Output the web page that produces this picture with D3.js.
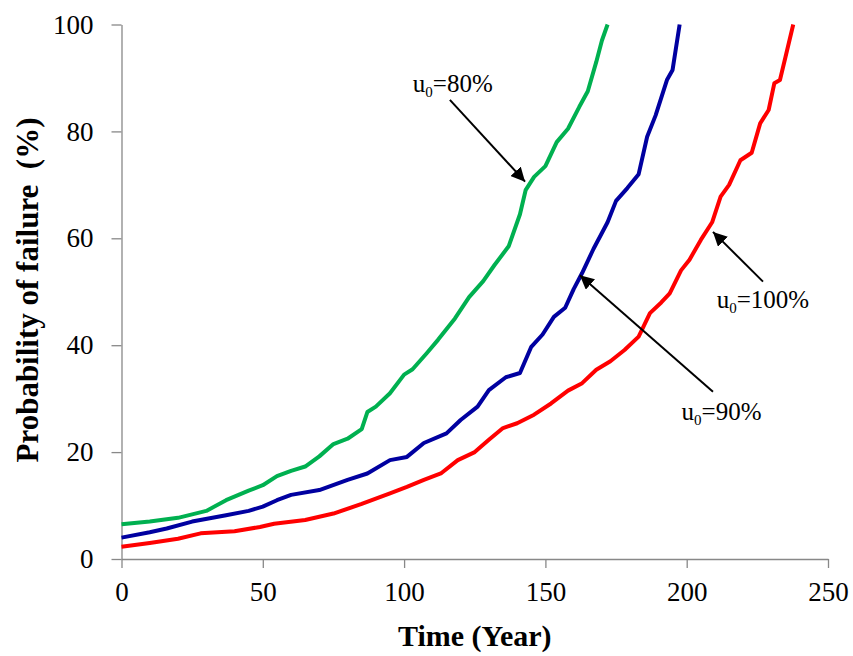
<!DOCTYPE html>
<html><head><meta charset="utf-8">
<script src="https://cdn.jsdelivr.net/npm/d3@7"></script>
<style>body{margin:0;background:#fff}</style>
</head><body>
<svg id="c" width="853" height="656"></svg>
<script>
const xTicks = [0,50,100,150,200,250];
const yTicks = [0,20,40,60,80,100];

const greenT = [0,10,20,30,37,45,50,55,60,65,70,75,80,85,87,90,95,100,103,108,112,118,123,128,132,137,141,143,146,150,154,158,162,165,168,170,172];
const greenV = [6.5,7.0,7.7,9.0,11,12.8,13.8,15.5,16.5,17.3,19.2,21.5,22.5,24.3,27.5,28.5,31,34.5,35.5,38.5,41,45,49,52,55,58.5,64.5,69,71.5,73.5,78,80.5,84.6,87.5,93,97,100];

const blueT = [0,10,16,25,37,45,50,55,60,70,80,87,95,101,107,115,120,126,130,136,141,145,149,153,157,160,163,167,172,175,179,183,186,189,193,195,197.5];
const blueV = [4.0,5.0,5.7,7.0,8.2,9.0,9.8,11.0,12.0,12.9,14.8,16.0,18.5,19.1,21.7,23.5,26,28.5,31.6,34,34.8,39.7,42,45.3,47,50.5,53.5,58,63,67,69.4,72,79,83,89.6,91.5,100];

const redT = [0,10,20,28,40,49,54,65,75,85,95,101,107,113,119,125,130,135,140,146,152,158,163,168,173,178,183,187,191,194,198,201,205,209,212,215,219,223,226,229,231,233,235,237.7];
const redV = [2.3,3.0,3.8,4.8,5.2,6.0,6.6,7.3,8.5,10.3,12.3,13.5,14.8,16.0,18.5,20,22.3,24.5,25.4,27,29.1,31.5,32.9,35.4,37,39.1,41.6,46,48,49.7,54,56,59.7,63,67.8,70,74.6,76,81.5,84,89,89.6,94,100];

const seriesNames = ["80%","90%","100%"];
const seriesColors = ["#00b050","#0000a0","#ff0000"];

// annotations in data units: label position, arrow start, arrow tip
const annLabels = ["80%","100%","90%"];
const annText = [[103.1,87.4],[210.6,47.0],[198.2,26.0]];
const annFrom = [[116.2,85.9],[227,51.9],[209.3,31.3]];
const annTo = [[142.8,70.6],[209.3,61.2],[162.2,53.1]];

const FF = "Liberation Serif";
const svg = d3.select("#c");
const x = d3.scaleLinear().domain([0,250]).range([121.5,828]);
const y = d3.scaleLinear().domain([0,100]).range([559,24.5]);

const axisColor = "#888";
const gx = svg.append("g").attr("transform",`translate(0,${y(0)})`)
  .call(d3.axisBottom(x).tickValues(xTicks).tickSize(9).tickSizeOuter(0).tickPadding(14));
const gy = svg.append("g").attr("transform",`translate(${x(0)},0)`)
  .call(d3.axisLeft(y).tickValues(yTicks).tickSize(10).tickSizeOuter(0).tickPadding(18));
[gx,gy].forEach(g=>{
  g.attr("font-family",FF).attr("font-size",27);
  g.selectAll("path,line").attr("stroke",axisColor).attr("stroke-width",1.3);
  g.selectAll("text").attr("font-family",FF).attr("font-size",27).attr("fill","#000");
});
gy.selectAll("text").attr("dy","0.32em");

const data = [
  greenT.map((t,i)=>[t,greenV[i]]),
  blueT.map((t,i)=>[t,blueV[i]]),
  redT.map((t,i)=>[t,redV[i]])
];
const line = d3.line().x(d=>x(d[0])).y(d=>y(d[1]));
svg.append("g").selectAll("path").data(data).join("path")
  .attr("d",line).attr("fill","none")
  .attr("stroke",(d,i)=>seriesColors[i]).attr("stroke-width",4)
  .attr("stroke-linejoin","round");

svg.append("defs").append("marker").attr("id","ah")
  .attr("viewBox","0 0 10 10").attr("refX",10).attr("refY",5)
  .attr("markerWidth",14).attr("markerHeight",14).attr("markerUnits","userSpaceOnUse")
  .attr("orient","auto")
  .append("path").attr("d","M0,0 L10,5 L0,10 Z").attr("fill","#000");

annFrom.forEach((f,i)=>{
  svg.append("line")
    .attr("x1",x(f[0])).attr("y1",y(f[1]))
    .attr("x2",x(annTo[i][0])).attr("y2",y(annTo[i][1]))
    .attr("stroke","#000").attr("stroke-width",2)
    .attr("marker-end","url(#ah)");
  const t = svg.append("text").attr("x",x(annText[i][0])).attr("y",y(annText[i][1]))
    .attr("font-family",FF).attr("font-size",25).attr("fill","#000");
  t.append("tspan").text("u");
  t.append("tspan").attr("font-size",15).attr("dy",5).text("0");
  t.append("tspan").attr("dy",-5).text("=" + annLabels[i]);
});

svg.append("text").attr("x",(x(0)+x(250))/2).attr("y",646)
  .attr("text-anchor","middle").attr("font-family",FF)
  .attr("font-weight","bold").attr("font-size",30).text("Time (Year)");
svg.append("text").attr("transform","translate(38,290) rotate(-90)")
  .attr("text-anchor","middle").attr("font-family",FF)
  .attr("font-weight","bold").attr("font-size",31).text("Probability of failure\u00a0 (%)");
</script>
</body></html>
